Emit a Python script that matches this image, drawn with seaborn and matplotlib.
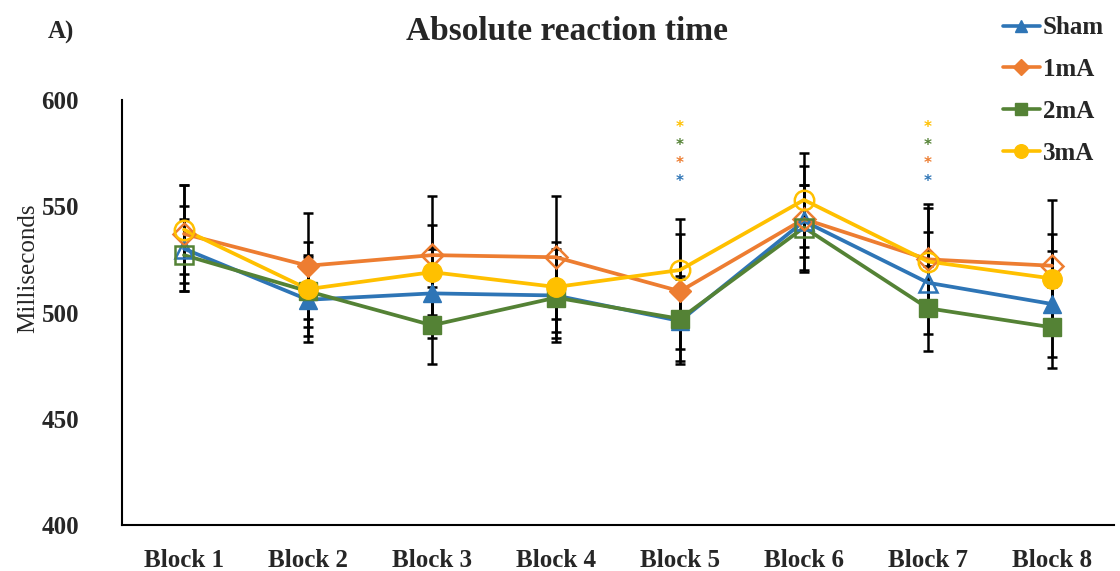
import numpy as np
import pandas as pd
import matplotlib
matplotlib.use('Agg')
import matplotlib.pyplot as plt
from matplotlib.lines import Line2D
import seaborn as sns

# Données
blocks = ['Block 1', 'Block 2', 'Block 3', 'Block 4', 'Block 5', 'Block 6', 'Block 7', 'Block 8']
groups = ['Sham', '1mA', '2mA', '3mA']

sham = [530, 506, 509, 508, 496, 543, 514, 504]
ma1 = [537, 522, 527, 526, 510, 544, 525, 522]
ma2 = [527, 510, 494, 507, 497, 540, 502, 493]
ma3 = [539, 511, 519, 512, 520, 553, 524, 516]

sham_err = [20, 20, 21, 22, 20, 17, 24, 25]
ma1_err = [23, 25, 28, 29, 27, 25, 26, 31]
ma2_err = [17, 17, 18, 19, 20, 20, 20, 19]
ma3_err = [21, 22, 22, 21, 24, 22, 25, 21]

# 1 = marqueur vide
sham_open = [1, 0, 0, 0, 0, 1, 1, 0]
ma1_open = [1, 0, 1, 1, 0, 1, 1, 1]
ma2_open = [1, 0, 0, 0, 0, 1, 0, 0]
ma3_open = [1, 0, 0, 0, 1, 1, 1, 0]

sig_blocks = ['Block 5', 'Block 7']

colors = {'Sham': '#2E75B6', '1mA': '#ED7D31', '2mA': '#548235', '3mA': '#FFC000'}
markers = {'Sham': '^', '1mA': 'D', '2mA': 's', '3mA': 'o'}
msizes = {'Sham': 13, '1mA': 11, '2mA': 13, '3mA': 14}

values = {'Sham': sham, '1mA': ma1, '2mA': ma2, '3mA': ma3}
errors = {'Sham': sham_err, '1mA': ma1_err, '2mA': ma2_err, '3mA': ma3_err}
opens = {'Sham': sham_open, '1mA': ma1_open, '2mA': ma2_open, '3mA': ma3_open}

rows = []
for g in groups:
    for i, b in enumerate(blocks):
        rows.append({'group': g, 'block': b, 'x': i, 'ms': values[g][i],
                     'err': errors[g][i], 'open': opens[g][i]})
df = pd.DataFrame(rows)

sns.set_style('white')
plt.rcParams['font.family'] = ['Liberation Serif', 'DejaVu Serif']

fig, ax = plt.subplots(figsize=(11.2, 5.71), dpi=100)
fig.subplots_adjust(left=122/1120, right=1114/1120, top=1-100/571, bottom=1-525/571)

# barres d'erreur
for g in groups:
    d = df[df['group'] == g]
    ax.errorbar(d['x'], d['ms'], yerr=d['err'], fmt='none', ecolor='black',
                elinewidth=1.8, capsize=3.5, capthick=1.8, zorder=1)

# courbes
sns.lineplot(data=df, x='x', y='ms', hue='group', hue_order=groups, palette=colors,
             linewidth=2.7, legend=False, ax=ax, zorder=2)

# marqueurs pleins / vides
for g in groups:
    d = df[df['group'] == g]
    full = d[d['open'] == 0]
    empty = d[d['open'] == 1]
    ax.plot(full['x'], full['ms'], linestyle='none', marker=markers[g], markersize=msizes[g],
            color=colors[g], markeredgecolor=colors[g], zorder=3)
    ax.plot(empty['x'], empty['ms'], linestyle='none', marker=markers[g], markersize=msizes[g],
            markerfacecolor='none', markeredgecolor=colors[g], markeredgewidth=1.8, zorder=3)

# astérisques de significativité
for b in sig_blocks:
    xi = blocks.index(b)
    for k, g in enumerate(['Sham', '1mA', '2mA', '3mA']):
        ax.text(xi, 561.5 + 8.5*k, '*', color=colors[g], fontsize=11, fontweight='bold',
                ha='center', va='center', family='DejaVu Sans')

ax.set_xlim(-0.5, 7.5)
ax.set_ylim(400, 600)
ax.set_yticks([400, 450, 500, 550, 600])
ax.set_xticks(list(range(len(blocks))) + [7.5])
ax.set_xticklabels(blocks + [''])
ax.set_xlabel('')
ax.set_ylabel('')
for s in ['top', 'right']:
    ax.spines[s].set_visible(False)
for s in ['left', 'bottom']:
    ax.spines[s].set_linewidth(1.5)
    ax.spines[s].set_color('black')
ax.tick_params(axis='both', direction='in', length=5, width=1.5, color='black')
ax.tick_params(axis='y', pad=31, labelsize=18)
ax.tick_params(axis='x', pad=17, labelsize=18)
for lab in ax.get_xticklabels() + ax.get_yticklabels():
    lab.set_fontweight('bold')

fig.text(567/1120, 1-31/571, 'Absolute reaction time', ha='center', va='center',
         fontsize=24, fontweight='bold')
fig.text(48/1120, 1-32/571, 'A)', ha='left', va='center', fontsize=18, fontweight='bold')
fig.text(28/1120, 1-268/571, 'Milliseconds', ha='center', va='center', rotation=90, fontsize=18)

handles = [Line2D([0], [0], color=colors[g], marker=markers[g], markersize=msizes[g]*0.7,
                  linewidth=2.6) for g in groups]
fig.legend(handles, groups, loc='upper right', bbox_to_anchor=(1.0, 1.0), frameon=False,
           prop={'weight': 'bold', 'size': 18}, handlelength=1.5, handletextpad=0.1,
           labelspacing=0.75, borderaxespad=0.25)

plt.savefig('out.png', dpi=100)
